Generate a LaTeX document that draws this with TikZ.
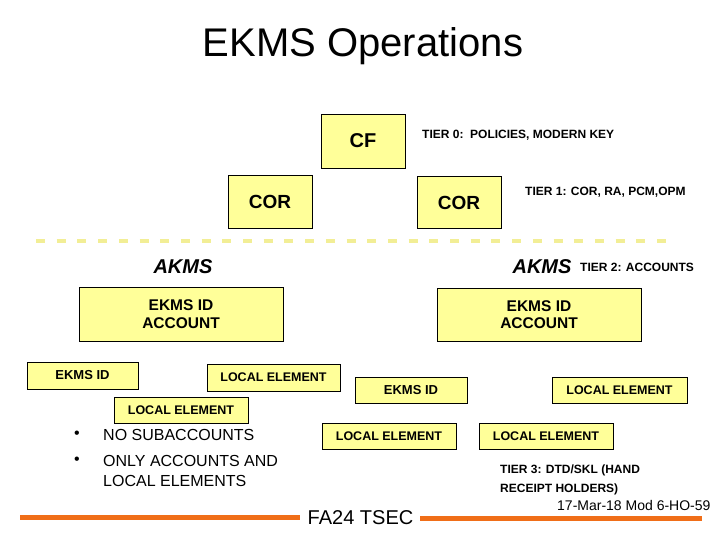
\documentclass[tikz,border=0pt]{standalone}
\usepackage{fontspec}
\setmainfont{Liberation Sans}
\definecolor{boxfill}{RGB}{255,255,153}
\definecolor{dashy}{RGB}{242,238,150}
\definecolor{orangeline}{RGB}{240,110,24}
\newcommand{\fs}[1]{\fontsize{#1bp}{#1bp}\selectfont}
\begin{document}
\begin{tikzpicture}[x=1bp,y=-1bp,
  box/.style={draw=black, line width=0.8bp, fill=boxfill, inner sep=0pt, align=center},
  lbl/.style={inner sep=0pt, anchor=west},
  tier/.style={lbl, font=\fs{12}\bfseries},
  smallbox/.style={box, font=\fs{12.5}\bfseries},
  orule/.style={orangeline, line width=5bp}]
\useasboundingbox (0,0) rectangle (720,540);
\node[inner sep=0pt, font=\fs{40}] (title) at (363,46) {EKMS Operations};
% tier 0/1
\node[box, minimum width=84bp, minimum height=54bp, font=\fs{20}\bfseries] (cf) at (363,141) {CF};
\node[box, minimum width=84bp, minimum height=53bp, font=\fs{19}\bfseries] (corl) at (270,202) {COR};
\node[box, minimum width=84bp, minimum height=52bp, font=\fs{19}\bfseries] (corr) at (459,202.5) {COR};
\node[tier] (t0) at (422,135) {TIER 0:\ \ POLICIES, MODERN KEY};
\node[tier] (t1) at (525,192) {TIER 1: COR, RA, PCM,OPM};
% dashed separator
\coordinate (sepl) at (36,241);
\coordinate (sepr) at (677,241);
\draw[dashy, line width=4bp, dash pattern=on 9bp off 11.7bp] (sepl) -- (sepr);
% tier 2
\node[inner sep=0pt, font=\fs{20}\bfseries\itshape] (akmsl) at (183,267) {AKMS};
\node[inner sep=0pt, font=\fs{20}\bfseries\itshape] (akmsr) at (542,267) {AKMS};
\node[tier] (t2) at (580,267.5) {TIER 2: ACCOUNTS};
\node[box, minimum width=204bp, minimum height=54bp, font=\fs{15.5}\bfseries] (acctl) at (181,314) {EKMS ID\\[2bp]ACCOUNT};
\node[box, minimum width=204bp, minimum height=53bp, font=\fs{15.5}\bfseries] (acctr) at (539,314.5) {EKMS ID\\[2bp]ACCOUNT};
% tier 3
\node[smallbox, minimum width=111bp, minimum height=27bp, font=\fs{13}\bfseries] (idl) at (82.5,375.5) {EKMS ID};
\node[smallbox, minimum width=133bp, minimum height=27bp] (lem) at (273.5,377.5) {LOCAL ELEMENT};
\node[smallbox, minimum width=134bp, minimum height=26bp] (lell) at (181,410) {LOCAL ELEMENT};
\node[smallbox, minimum width=112bp, minimum height=26bp, font=\fs{13}\bfseries] (idm) at (411,390) {EKMS ID};
\node[smallbox, minimum width=135bp, minimum height=26bp] (ler) at (619.5,390) {LOCAL ELEMENT};
\node[smallbox, minimum width=134bp, minimum height=26bp] (leml) at (389,436) {LOCAL ELEMENT};
\node[smallbox, minimum width=134bp, minimum height=26bp] (lemr) at (546,436) {LOCAL ELEMENT};
% bullets
\node[lbl, font=\fs{16}] (b1) at (74,435) {•};
\node[lbl, font=\fs{16}] (b1t) at (103,435) {NO SUBACCOUNTS};
\node[lbl, font=\fs{16}] (b2) at (74,461) {•};
\node[lbl, font=\fs{16}] (b2t) at (103,461) {ONLY ACCOUNTS AND};
\node[lbl, font=\fs{16}] (b3t) at (103,481) {LOCAL ELEMENTS};
\node[tier] (t3a) at (500,470) {TIER 3: DTD/SKL (HAND};
\node[tier] (t3b) at (500,489) {RECEIPT HOLDERS)};
% footer
\node[lbl, font=\fs{14}] (date) at (557,505) {17-Mar-18 Mod 6-HO-59};
\node[inner sep=0pt, font=\fs{20}] (fa) at (360.5,518) {FA24 TSEC};
\coordinate (ol1) at (20,517);
\coordinate (ol2) at (300,517);
\coordinate (or1) at (420,518);
\coordinate (or2) at (702,518);
\draw[orule] (ol1) -- (ol2);
\draw[orule] (or1) -- (or2);
\end{tikzpicture}
\end{document}
